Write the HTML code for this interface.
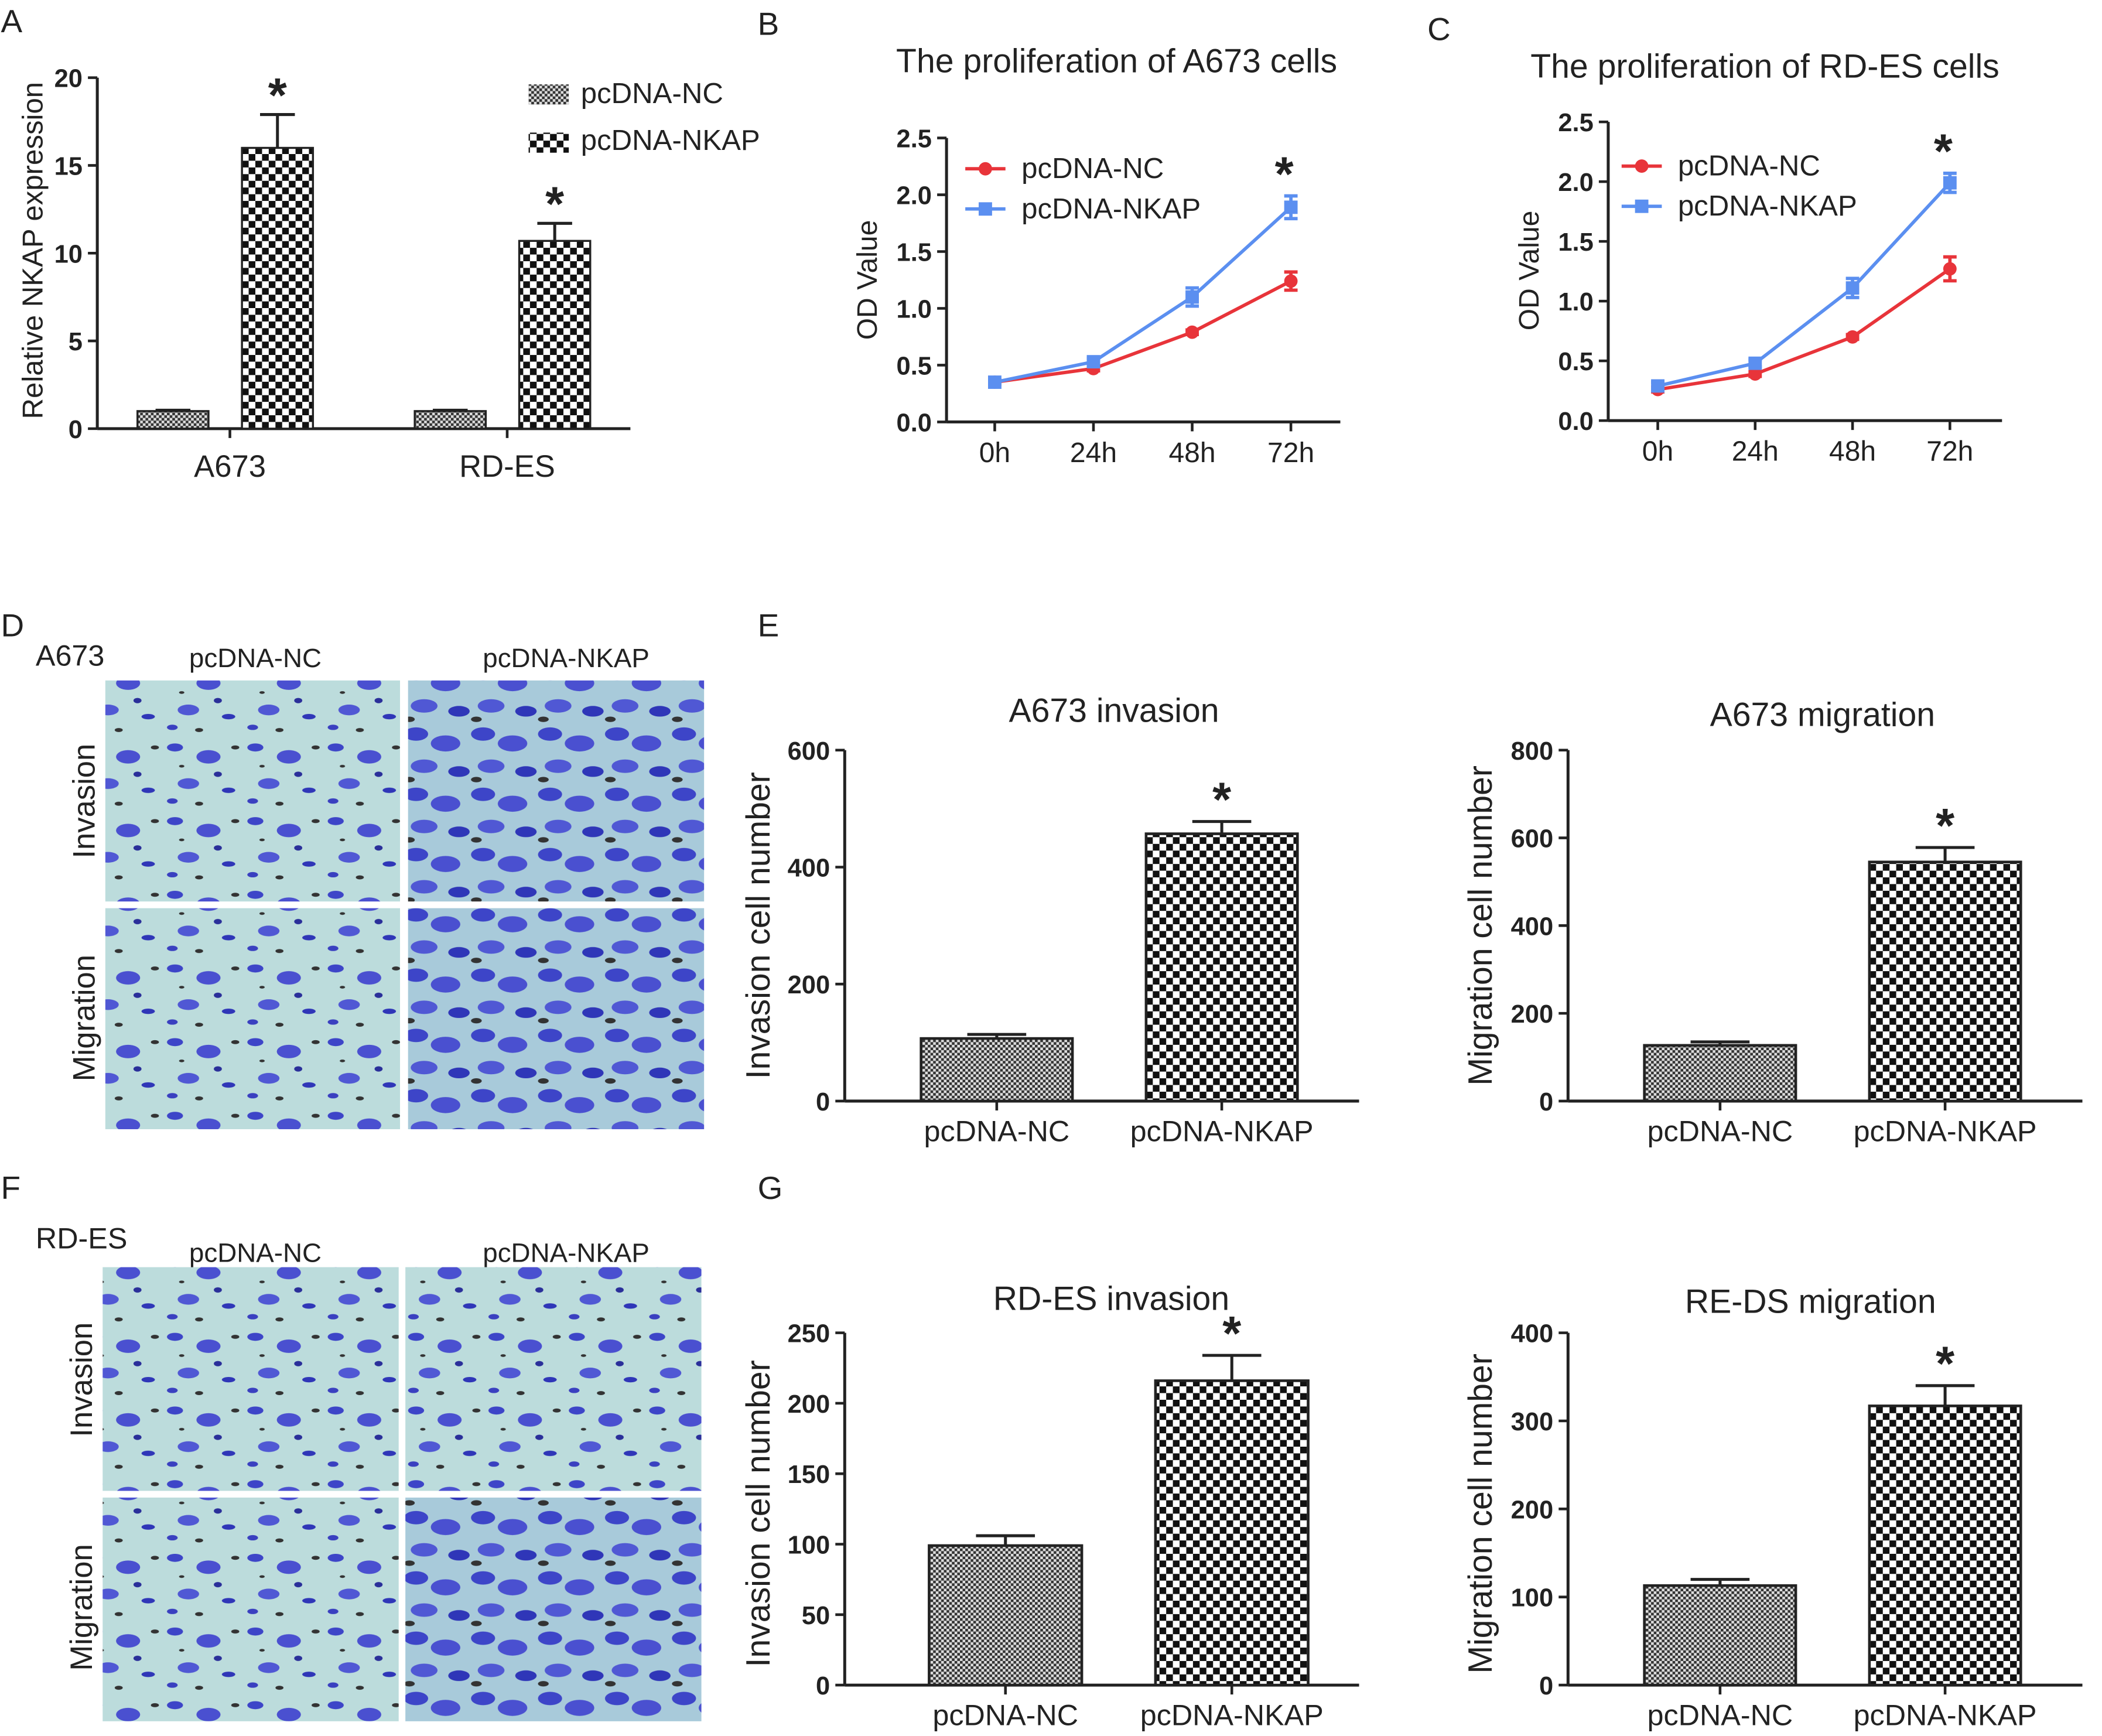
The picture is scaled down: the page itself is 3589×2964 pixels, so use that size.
<!DOCTYPE html>
<html><head><meta charset="utf-8"><style>
html,body{margin:0;padding:0;background:#fff;}
svg{display:block;font-family:"Liberation Sans",Arial,sans-serif;}
</style></head><body>
<svg id="fig" width="3589" height="2964" viewBox="0 0 1568 1296" xmlns="http://www.w3.org/2000/svg">
<defs>
<pattern id="chkBig" width="10" height="10" patternUnits="userSpaceOnUse"><rect width="10" height="10" fill="#fff"/><rect width="5" height="5" fill="#111"/><rect x="5" y="5" width="5" height="5" fill="#111"/></pattern>
<pattern id="chkSmall" width="4" height="4" patternUnits="userSpaceOnUse"><rect width="4" height="4" fill="#ddd"/><rect width="2" height="2" fill="#333"/><rect x="2" y="2" width="2" height="2" fill="#333"/></pattern>
<pattern id="cells" width="60" height="55" patternUnits="userSpaceOnUse"><rect width="60" height="55" fill="#bcdcdc"/>
<ellipse cx="10" cy="8" rx="6" ry="3" fill="#3d45c8"/><ellipse cx="35" cy="15" rx="9" ry="5" fill="#4a50d0"/><ellipse cx="50" cy="40" rx="5" ry="2" fill="#2f36b8"/><ellipse cx="20" cy="35" rx="8" ry="4" fill="#5058d4"/><ellipse cx="42" cy="28" rx="3" ry="2" fill="#2a2f9a"/><ellipse cx="8" cy="48" rx="4" ry="2" fill="#3a40c0"/><ellipse cx="28" cy="50" rx="3" ry="1.5" fill="#333"/><ellipse cx="55" cy="8" rx="3" ry="1.5" fill="#333"/><ellipse cx="15" cy="22" rx="2" ry="1" fill="#333"/></pattern>
<pattern id="cellsDense" width="50" height="45" patternUnits="userSpaceOnUse"><rect width="50" height="45" fill="#a8cada"/>
<ellipse cx="10" cy="8" rx="9" ry="5" fill="#3d45c8"/><ellipse cx="32" cy="15" rx="11" ry="6" fill="#4a50d0"/><ellipse cx="42" cy="36" rx="8" ry="4" fill="#2f36b8"/><ellipse cx="16" cy="32" rx="10" ry="5" fill="#5058d4"/><ellipse cx="5" cy="42" rx="4" ry="2" fill="#333"/></pattern>
</defs>
<g id="static" font-size="21" fill="#222">
<text x="0" y="24" font-size="24">A</text>
<text x="565" y="26" font-size="24">B</text>
<text x="1065" y="30" font-size="24">C</text>
<text x="0" y="475" font-size="24">D</text>
<text x="565" y="475" font-size="24">E</text>
<text x="0" y="895" font-size="24">F</text>
<text x="565" y="895" font-size="24">G</text>
<text x="833" y="54" text-anchor="middle" font-size="25">The proliferation of A673 cells</text>
<text x="1317" y="58" text-anchor="middle" font-size="25">The proliferation of RD-ES cells</text>
<text x="831" y="539" text-anchor="middle" font-size="25">A673 invasion</text>
<text x="1360" y="542" text-anchor="middle" font-size="25">A673 migration</text>
<text x="829" y="978" text-anchor="middle" font-size="25">RD-ES invasion</text>
<text x="1351" y="980" text-anchor="middle" font-size="25">RE-DS migration</text>
<text transform="translate(31,187) rotate(-90)" text-anchor="middle" font-size="21.5">Relative NKAP expression</text>
<text transform="translate(654,209) rotate(-90)" text-anchor="middle" font-size="21">OD Value</text>
<text transform="translate(1148,202) rotate(-90)" text-anchor="middle" font-size="21">OD Value</text>
<text transform="translate(574,691) rotate(-90)" text-anchor="middle" font-size="25">Invasion cell number</text>
<text transform="translate(1113,691) rotate(-90)" text-anchor="middle" font-size="25">Migration cell number</text>
<text transform="translate(574,1130) rotate(-90)" text-anchor="middle" font-size="25">Invasion cell number</text>
<text transform="translate(1113,1130) rotate(-90)" text-anchor="middle" font-size="25">Migration cell number</text>
<rect x="394" y="63" width="30" height="15" fill="url(#chkSmall)"/>
<text x="433" y="77" font-size="21.5">pcDNA-NC</text>
<rect x="394" y="99" width="30" height="15" fill="url(#chkBig)"/>
<text x="433" y="112" font-size="21.5">pcDNA-NKAP</text>
<text x="26" y="497" font-size="22">A673</text>
<text x="190" y="498" text-anchor="middle" font-size="20">pcDNA-NC</text>
<text x="422" y="498" text-anchor="middle" font-size="20">pcDNA-NKAP</text>
<text transform="translate(70,598) rotate(-90)" text-anchor="middle" font-size="23">Invasion</text>
<text transform="translate(70,760) rotate(-90)" text-anchor="middle" font-size="23">Migration</text>
<rect x="78" y="508" width="220" height="165" fill="url(#cells)"/>
<rect x="304" y="508" width="221" height="165" fill="url(#cellsDense)"/>
<rect x="78" y="678" width="220" height="165" fill="url(#cells)"/>
<rect x="304" y="678" width="221" height="165" fill="url(#cellsDense)"/>
<text x="26" y="932" font-size="22">RD-ES</text>
<text x="190" y="942" text-anchor="middle" font-size="20">pcDNA-NC</text>
<text x="422" y="942" text-anchor="middle" font-size="20">pcDNA-NKAP</text>
<text transform="translate(68,1030) rotate(-90)" text-anchor="middle" font-size="23">Invasion</text>
<text transform="translate(68,1200) rotate(-90)" text-anchor="middle" font-size="23">Migration</text>
<rect x="76" y="946" width="221" height="167" fill="url(#cells)"/>
<rect x="302" y="946" width="221" height="167" fill="url(#cells)"/>
<rect x="76" y="1118" width="221" height="167" fill="url(#cells)"/>
<rect x="302" y="1118" width="221" height="167" fill="url(#cellsDense)"/>
</g>
<g id="marks"></g>
</svg>
<script>
const aCategories = ["A673", "RD-ES"];
const aNC = [1, 1];
const aNCerr = [0.05, 0.05];
const aNKAP = [16, 10.7];
const aNKAPerr = [1.9, 1.0];
const aTicks = [0, 5, 10, 15, 20];
const timeLabels = ["0h", "24h", "48h", "72h"];
const odTicks = [0, 0.5, 1.0, 1.5, 2.0, 2.5];
const bNC = [0.35, 0.47, 0.79, 1.24];
const bNCerr = [0.02, 0.02, 0.02, 0.08];
const bNKAP = [0.35, 0.53, 1.10, 1.89];
const bNKAPerr = [0.02, 0.03, 0.08, 0.10];
const cNC = [0.26, 0.39, 0.70, 1.27];
const cNCerr = [0.02, 0.02, 0.02, 0.10];
const cNKAP = [0.29, 0.48, 1.11, 1.99];
const cNKAPerr = [0.03, 0.03, 0.08, 0.08];
const groups = ["pcDNA-NC", "pcDNA-NKAP"];
const eInvasion = [107, 457];
const eInvasionErr = [7, 21];
const eInvasionTicks = [0, 200, 400, 600];
const eMigration = [127, 545];
const eMigrationErr = [8, 33];
const eMigrationTicks = [0, 200, 400, 600, 800];
const gInvasion = [99, 216];
const gInvasionErr = [7, 18];
const gInvasionTicks = [0, 50, 100, 150, 200, 250];
const gMigration = [113, 317];
const gMigrationErr = [7, 23];
const gMigrationTicks = [0, 100, 200, 300, 400];

const NS = "http://www.w3.org/2000/svg";
const root = document.getElementById("marks");
function mk(tag, attrs, txt) {
  const e = document.createElementNS(NS, tag);
  for (const k in attrs) e.setAttribute(k, attrs[k]);
  if (txt !== undefined) e.textContent = txt;
  root.appendChild(e);
  return e;
}
function lin(d0, d1, r0, r1) { return v => r0 + (v - d0) / (d1 - d0) * (r1 - r0); }

function yAxis(x, y, ticks, fmt, xEnd) {
  let el = mk("line", {x1: x, y1: y(ticks[0]), x2: x, y2: y(ticks[ticks.length-1]), stroke: "#222", "stroke-width": 2.2});
  
  
  el = mk("line", {x1: x, y1: y(ticks[0]), x2: xEnd, y2: y(ticks[0]), stroke: "#222", "stroke-width": 2.2});
  
  
  ticks.forEach(t => {
    let tk = mk("line", {x1: x - 7, y1: y(t), x2: x, y2: y(t), stroke: "#222", "stroke-width": 2});
    
    
    let lb = mk("text", {x: x - 11, y: y(t) + 7, "text-anchor": "end", "font-size": 19, "font-weight": "bold", fill: "#222"}, fmt(t));
    
    
  });
}
function errBar(cx, yTop, yBase, w) {
  let e = mk("path", {d: `M${cx},${yBase}V${yTop}M${cx-w},${yTop}H${cx+w}`, stroke: "#222", "stroke-width": 2.2, fill: "none"});
  
  
}
function star(x, y) {
  let s = mk("text", {x: x, y: y, "text-anchor": "middle", "font-size": 36, "font-weight": "bold", fill: "#222"}, "*");
  
  
}

(function(){
  const y = lin(0, 20, 320, 58);
  yAxis(72, y, aTicks, t => String(t), 470);
  const centers = [171, 378];
  centers.forEach((c, i) => {
    let tk = mk("line", {x1: c, y1: 320, x2: c, y2: 327, stroke: "#222", "stroke-width": 2});
    
    
    let lb = mk("text", {x: c, y: 356, "text-anchor": "middle", "font-size": 23, fill: "#222"}, aCategories[i]);
    
    
    const xn = c - 69, xk = c + 9, w = 53;
    errBar(xn + w/2, y(aNC[i] + aNCerr[i]), y(aNC[i]), 13);
    let b1 = mk("rect", {x: xn, y: y(aNC[i]), width: w, height: 320 - y(aNC[i]), fill: "url(#chkSmall)", stroke: "#222", "stroke-width": 1.5});
    
    
    errBar(xk + w/2, y(aNKAP[i] + aNKAPerr[i]), y(aNKAP[i]), 13);
    let b2 = mk("rect", {x: xk, y: y(aNKAP[i]), width: w, height: 320 - y(aNKAP[i]), fill: "url(#chkBig)", stroke: "#222", "stroke-width": 1.5});
    
    
    star(xk + w/2, y(aNKAP[i] + aNKAPerr[i]) - 2);
  });
})();

function linePanel(ax, y0, y25, x0, dx, nc, ncErr, nk, nkErr, lx, ly) {
  const y = lin(0, 2.5, y0, y25);
  const xs = i => x0 + i * dx;
  yAxis(ax, y, odTicks, t => t.toFixed(1), ax + 294);
  timeLabels.forEach((t, i) => {
    let tk = mk("line", {x1: xs(i), y1: y0, x2: xs(i), y2: y0 + 7, stroke: "#222", "stroke-width": 2});
    
    
    let lb = mk("text", {x: xs(i), y: y0 + 30, "text-anchor": "middle", "font-size": 21, fill: "#222"}, t);
    
    
  });
  [[nc, ncErr, "#e8343a", "nc"], [nk, nkErr, "#5b8ff0", "nkap"]].forEach(([vals, errs, col, nm]) => {
    let ln = mk("polyline", {points: vals.map((v, i) => xs(i) + "," + y(v)).join(" "), fill: "none", stroke: col, "stroke-width": 2.5});
    
    
    vals.forEach((v, i) => {
      let e = mk("path", {d: `M${xs(i)},${y(v-errs[i])}V${y(v+errs[i])}M${xs(i)-5},${y(v-errs[i])}H${xs(i)+5}M${xs(i)-5},${y(v+errs[i])}H${xs(i)+5}`, stroke: col, "stroke-width": 2.5, fill: "none"});
      
      
      let p = nm === "nc" ? mk("circle", {cx: xs(i), cy: y(v), r: 5, fill: col}) : mk("rect", {x: xs(i) - 5, y: y(v) - 5, width: 10, height: 10, fill: col});
      
      
    });
  });
  star(xs(3) - 5, y(nk[3] + nkErr[3]) - 4);
  let l1 = mk("line", {x1: lx, y1: ly, x2: lx + 30, y2: ly, stroke: "#e8343a", "stroke-width": 2.5});
  
  
  let m1 = mk("circle", {cx: lx + 15, cy: ly, r: 5, fill: "#e8343a"});
  
  
  let t1 = mk("text", {x: lx + 42, y: ly + 7, "font-size": 21.5, fill: "#222"}, "pcDNA-NC");
  
  
  let l2 = mk("line", {x1: lx, y1: ly + 30, x2: lx + 30, y2: ly + 30, stroke: "#5b8ff0", "stroke-width": 2.5});
  
  
  let m2 = mk("rect", {x: lx + 10, y: ly + 25, width: 10, height: 10, fill: "#5b8ff0"});
  
  
  let t2 = mk("text", {x: lx + 42, y: ly + 37, "font-size": 21.5, fill: "#222"}, "pcDNA-NKAP");
  
  
}
linePanel(706, 315, 103, 742, 73.7, bNC, bNCerr, bNKAP, bNKAPerr, 720, 126);
linePanel(1200, 314, 91, 1237, 72.7, cNC, cNCerr, cNKAP, cNKAPerr, 1210, 124);

function barPanel(ax, y0, yTop, ticks, vals, errs, b1x, b2x, w, tag) {
  const y = lin(0, ticks[ticks.length-1], y0, yTop);
  yAxis(ax, y, ticks, t => String(t), ax + 384);
  [b1x, b2x].forEach((bx, i) => {
    const c = bx + w / 2;
    let tk = mk("line", {x1: c, y1: y0, x2: c, y2: y0 + 7, stroke: "#222", "stroke-width": 2});
    
    
    let lb = mk("text", {x: c, y: y0 + 30, "text-anchor": "middle", "font-size": 22, fill: "#222"}, groups[i]);
    
    
    errBar(c, y(vals[i] + errs[i]), y(vals[i]), 22);
    let b = mk("rect", {x: bx, y: y(vals[i]), width: w, height: y0 - y(vals[i]), fill: i === 0 ? "url(#chkSmall)" : "url(#chkBig)", stroke: "#222", "stroke-width": 2});
    
    
  });
  star(b2x + w / 2, y(vals[1] + errs[1]) - 4);
}
barPanel(630, 822, 560, eInvasionTicks, eInvasion, eInvasionErr, 687, 855, 113, 'e-invasion');
barPanel(1170, 822, 560, eMigrationTicks, eMigration, eMigrationErr, 1227, 1395, 113, 'e-migration');
barPanel(630, 1258, 995, gInvasionTicks, gInvasion, gInvasionErr, 693, 862, 114, 'g-invasion');
barPanel(1170, 1258, 995, gMigrationTicks, gMigration, gMigrationErr, 1227, 1395, 113, 'g-migration');
</script>
</body></html>
